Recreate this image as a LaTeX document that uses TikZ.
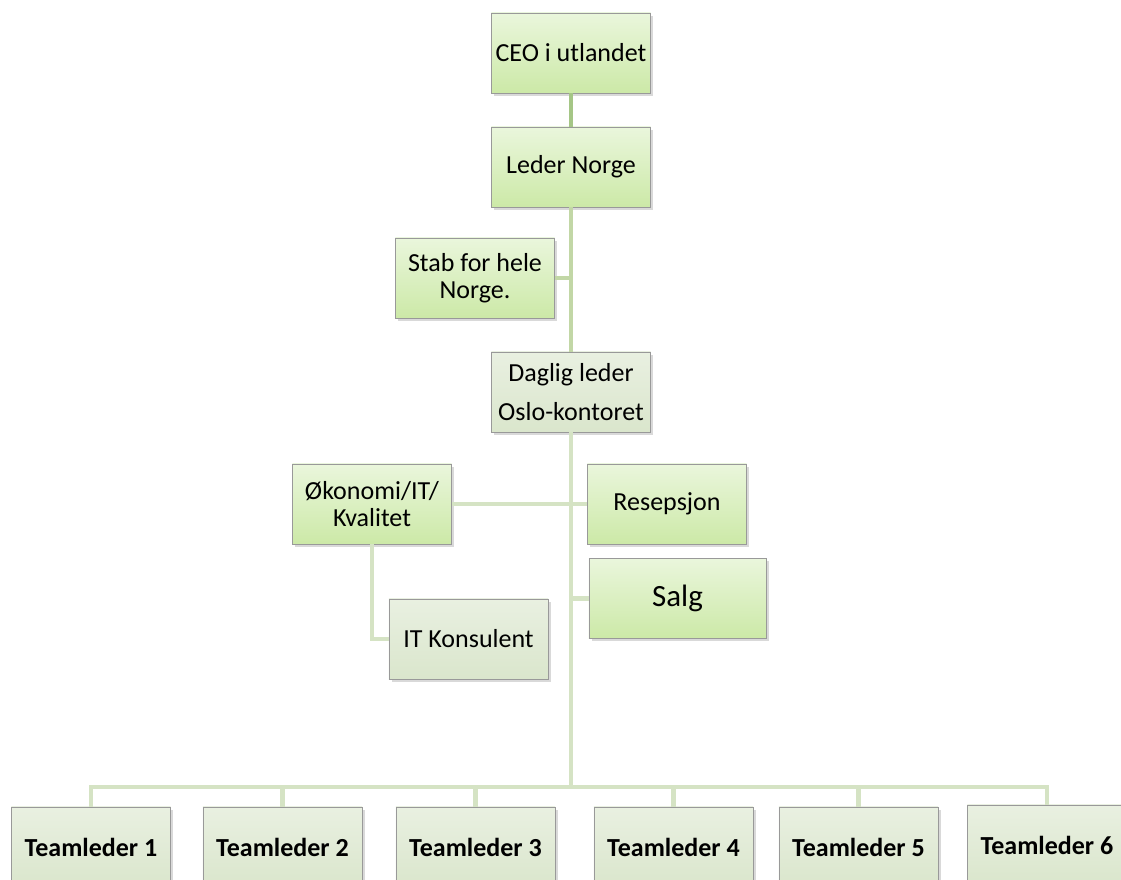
\documentclass[tikz,border=0pt]{standalone}
\usepackage{xcolor}
\usepackage{fontspec}
\setmainfont{Carlito}
\usepackage{tikz}
\usetikzlibrary{shadows}

\definecolor{boxtop}{HTML}{EAF6DC}
\definecolor{boxbot}{HTML}{CCE9A7}
\definecolor{greytop}{HTML}{E9F0E1}
\definecolor{greybot}{HTML}{DAE6CC}
\definecolor{linedark}{HTML}{A5C686}
\definecolor{linemid}{HTML}{C2D7A6}
\definecolor{linelight}{HTML}{D5E3C4}

\begin{document}
\begin{tikzpicture}[x=0.025cm, y=-0.025cm,
    every node/.style={font=\fontsize{18.5}{19}\selectfont},
    orgbox/.style={draw=black!40, line width=0.6pt, top color=boxtop, bottom color=boxbot, minimum width=3.975cm, minimum height=2cm, align=center, inner sep=2pt, drop shadow={opacity=0.3, shadow xshift=2pt, shadow yshift=-2pt}},
    greybox/.style={orgbox, top color=greytop, bottom color=greybot},
    teambox/.style={greybox, font=\fontsize{18.5}{19}\selectfont\bfseries},
    darkline/.style={draw=linedark, line width=3.5pt},
    midline/.style={draw=linemid, line width=3.5pt},
    lightline/.style={draw=linelight, line width=3.5pt}]
    \clip (0,0) rectangle (1121,880);

    % Top of the chart
    \node[orgbox] (ceo) at (571,53) {CEO i utlandet};
    \node[orgbox] (leder) at (571,167) {Leder Norge};
    \node[orgbox] (stab) at (475,278) {Stab for hele\\Norge.};
    \node[greybox] (daglig) at (571,392) {Daglig leder\\[9pt]Oslo-kontoret};

    % Staff under the daily leader
    \node[orgbox] (okonomi) at (372,504) {Økonomi/IT/\\Kvalitet};
    \node[orgbox] (resepsjon) at (667,504) {Resepsjon};
    \node[orgbox, minimum width=4.425cm, font=\fontsize{22}{24}\selectfont] (salg) at (677.5,598.5) {Salg};
    \node[greybox] (itk) at (468.5,639) {IT Konsulent};

    % Team leaders
    \node[teambox] (team1) at (91,847) {Teamleder 1};
    \node[teambox] (team2) at (282.5,847) {Teamleder 2};
    \node[teambox] (team3) at (475.5,847) {Teamleder 3};
    \node[teambox] (team4) at (673.5,847) {Teamleder 4};
    \node[teambox] (team5) at (858.5,847) {Teamleder 5};
    \node[teambox] (team6) at (1047,845) {Teamleder 6};
    \coordinate (junc) at (571,787);

    % Edges - upper part
    \draw[darkline] (ceo) -- (leder);
    \draw[midline] (leder) -- (daglig);
    \draw[midline] (stab.east) -- (stab.east -| leder.south);

    % Edges - lower part
    \draw[lightline] (daglig.south) -- (junc);
    \draw[lightline] (okonomi.east) -- (resepsjon.west);
    \draw[lightline] (salg.west) -- (salg.west -| daglig.south);
    \draw[lightline] (okonomi.south) |- (itk.west);

    % Edges - to the team leaders
    \draw[lightline] (team1.north) |- (team6.north |- junc) -- (team6.north);
    \foreach \i in {2,...,5}
        \draw[lightline] (team\i.north) -- (team\i.north |- junc);
\end{tikzpicture}
\end{document}
